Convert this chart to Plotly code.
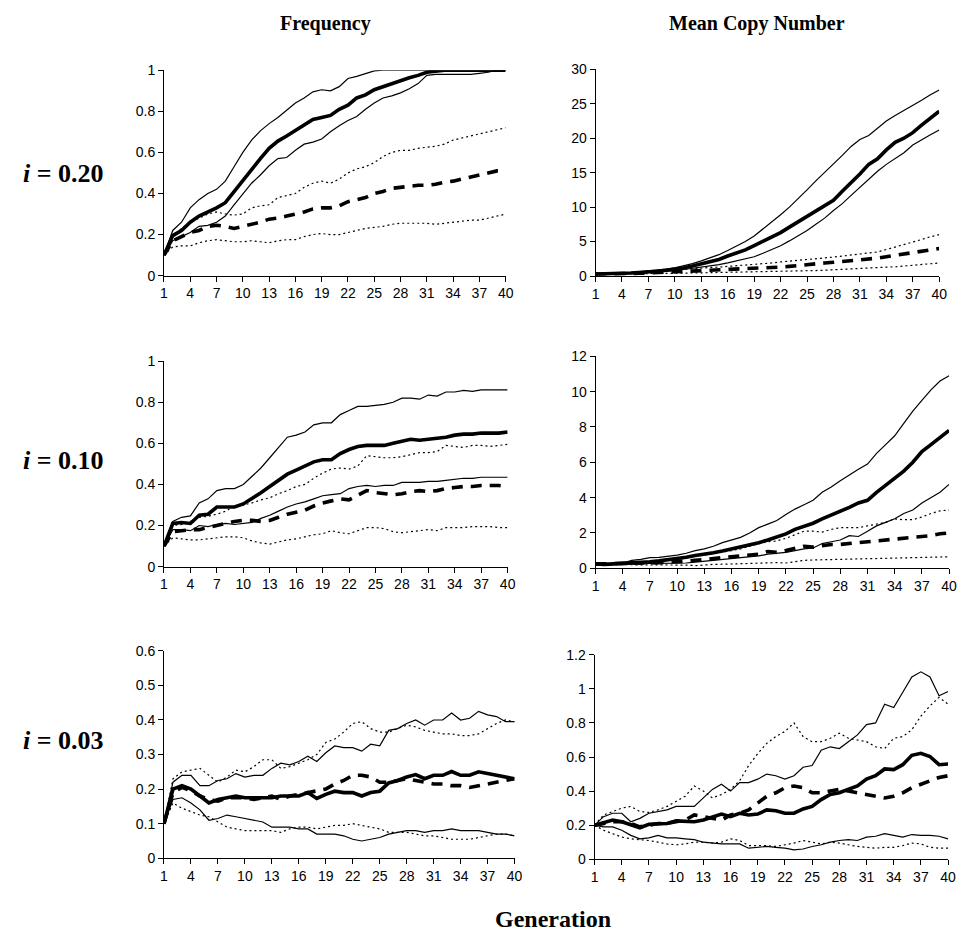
import plotly.graph_objects as go

generations = list(range(1, 41))
x_tick_vals = list(range(1, 41, 3))

# ---------- Frequency, i = 0.20 ----------
f20_mean = [0.1,0.195,0.22,0.26,0.29,0.31,0.33,0.355,0.41,0.465,0.52,0.57,0.62,0.655,0.68,0.705,0.735,0.76,0.77,0.78,
            0.81,0.83,0.865,0.88,0.905,0.92,0.935,0.95,0.963,0.975,0.99,0.995,1.0,1.0,1.0,1.0,1.0,1.0,1.0,1.0]
f20_up = [0.1,0.22,0.26,0.33,0.37,0.4,0.42,0.46,0.53,0.6,0.66,0.705,0.74,0.77,0.805,0.84,0.865,0.895,0.905,0.9,
          0.92,0.96,0.97,0.985,0.997,1.0,1.0,1.0,1.0,1.0,1.0,1.0,1.0,1.0,1.0,1.0,1.0,1.0,1.0,1.0]
f20_low = [0.1,0.17,0.19,0.21,0.24,0.245,0.26,0.29,0.345,0.4,0.45,0.49,0.535,0.57,0.575,0.61,0.64,0.65,0.665,0.7,
           0.73,0.755,0.775,0.81,0.84,0.865,0.875,0.89,0.91,0.935,0.975,0.98,0.98,0.98,0.98,0.98,0.985,0.99,1.0,1.0]
f20_dup = [0.1,0.19,0.23,0.26,0.28,0.3,0.31,0.3,0.295,0.3,0.33,0.34,0.345,0.38,0.39,0.4,0.43,0.45,0.46,0.45,
           0.47,0.5,0.52,0.53,0.55,0.58,0.6,0.61,0.61,0.62,0.625,0.63,0.64,0.66,0.67,0.68,0.69,0.7,0.71,0.72]
f20_dmean = [0.1,0.17,0.19,0.21,0.22,0.24,0.245,0.24,0.23,0.24,0.25,0.26,0.275,0.28,0.29,0.3,0.31,0.325,0.33,0.33,
             0.34,0.36,0.37,0.38,0.4,0.41,0.425,0.43,0.435,0.44,0.44,0.445,0.455,0.46,0.47,0.48,0.49,0.5,0.51,0.51]
f20_dlow = [0.1,0.14,0.145,0.145,0.16,0.17,0.175,0.17,0.165,0.165,0.17,0.165,0.16,0.17,0.175,0.175,0.19,0.2,0.205,0.2,
            0.2,0.21,0.22,0.23,0.235,0.24,0.25,0.255,0.255,0.255,0.255,0.25,0.255,0.26,0.265,0.27,0.27,0.28,0.29,0.3]

# ---------- Mean copy number, i = 0.20 ----------
c20_mean = [0.3,0.3,0.35,0.4,0.45,0.5,0.6,0.7,0.85,1.0,1.2,1.45,1.75,2.05,2.4,2.9,3.3,3.8,4.4,5.0,
            5.6,6.3,7.1,7.9,8.7,9.5,10.3,11.0,12.3,13.5,14.8,16.2,17.0,18.3,19.4,20.0,20.8,21.9,22.9,23.9]
c20_up = [0.3,0.32,0.38,0.45,0.5,0.6,0.7,0.85,1.0,1.2,1.45,1.8,2.2,2.6,3.1,3.7,4.3,5.0,5.8,6.8,
          7.8,8.9,10.0,11.2,12.5,13.8,15.0,16.2,17.5,18.8,19.8,20.4,21.5,22.5,23.3,24.0,24.7,25.5,26.3,27.0]
c20_low = [0.3,0.3,0.32,0.35,0.38,0.42,0.5,0.57,0.65,0.8,0.95,1.1,1.3,1.45,1.65,1.9,2.2,2.5,2.8,3.3,
           3.8,4.4,5.1,5.8,6.6,7.5,8.4,9.5,10.5,11.7,12.9,14.1,15.2,16.2,17.0,17.9,19.0,19.8,20.5,21.2]
c20_dup = [0.3,0.32,0.35,0.4,0.45,0.5,0.6,0.7,0.8,0.95,1.05,1.15,1.2,1.25,1.3,1.4,1.5,1.55,1.6,1.75,
           1.9,2.05,2.15,2.25,2.35,2.5,2.6,2.75,2.9,3.05,3.2,3.35,3.5,3.85,4.2,4.5,4.9,5.3,5.7,6.0]
c20_dmean = [0.3,0.3,0.3,0.35,0.35,0.4,0.45,0.5,0.6,0.7,0.75,0.8,0.8,0.85,0.95,1.0,1.0,1.05,1.1,1.2,
             1.25,1.3,1.4,1.55,1.7,1.8,1.9,2.0,2.1,2.2,2.3,2.45,2.6,2.8,3.0,3.2,3.4,3.6,3.8,4.0]
c20_dlow = [0.3,0.3,0.3,0.3,0.3,0.32,0.33,0.35,0.38,0.4,0.42,0.44,0.46,0.48,0.5,0.5,0.52,0.54,0.55,0.58,
            0.6,0.62,0.65,0.7,0.75,0.8,0.85,0.9,0.95,1.0,1.05,1.1,1.18,1.25,1.35,1.45,1.55,1.65,1.78,1.9]

# ---------- Frequency, i = 0.10 ----------
f10_mean = [0.1,0.21,0.215,0.21,0.25,0.255,0.29,0.29,0.29,0.305,0.33,0.36,0.39,0.42,0.45,0.47,0.49,0.51,0.52,0.52,
            0.55,0.57,0.585,0.59,0.59,0.59,0.6,0.61,0.62,0.615,0.62,0.625,0.63,0.64,0.645,0.645,0.65,0.65,0.65,0.655]
f10_up = [0.1,0.22,0.24,0.247,0.31,0.33,0.37,0.38,0.38,0.4,0.44,0.48,0.53,0.58,0.63,0.64,0.655,0.69,0.7,0.7,
          0.74,0.76,0.78,0.78,0.785,0.79,0.8,0.82,0.82,0.815,0.835,0.83,0.85,0.85,0.858,0.853,0.86,0.86,0.86,0.86]
f10_low = [0.1,0.18,0.18,0.175,0.2,0.195,0.205,0.21,0.205,0.21,0.215,0.235,0.25,0.27,0.29,0.305,0.315,0.33,0.345,0.35,
           0.355,0.38,0.39,0.395,0.39,0.395,0.395,0.41,0.41,0.41,0.415,0.415,0.42,0.425,0.43,0.43,0.435,0.435,0.435,0.435]
f10_dup = [0.1,0.2,0.205,0.22,0.24,0.245,0.255,0.27,0.295,0.3,0.31,0.325,0.335,0.355,0.37,0.39,0.4,0.43,0.455,0.475,
           0.48,0.475,0.49,0.54,0.535,0.53,0.53,0.535,0.545,0.555,0.555,0.56,0.59,0.585,0.58,0.59,0.59,0.585,0.59,0.595]
f10_dmean = [0.1,0.17,0.175,0.18,0.18,0.19,0.2,0.21,0.22,0.225,0.225,0.22,0.225,0.24,0.255,0.265,0.275,0.295,0.31,0.32,
             0.33,0.325,0.35,0.37,0.36,0.355,0.35,0.355,0.365,0.37,0.365,0.37,0.38,0.385,0.39,0.39,0.395,0.395,0.395,0.39]
f10_dlow = [0.1,0.14,0.135,0.13,0.13,0.135,0.14,0.145,0.145,0.14,0.125,0.115,0.11,0.12,0.13,0.135,0.145,0.155,0.16,0.175,
            0.165,0.16,0.175,0.19,0.19,0.185,0.17,0.165,0.17,0.175,0.18,0.175,0.19,0.19,0.19,0.195,0.195,0.195,0.19,0.19]

# ---------- Mean copy number, i = 0.10 ----------
c10_mean = [0.25,0.22,0.25,0.27,0.3,0.33,0.37,0.42,0.48,0.55,0.62,0.72,0.78,0.88,0.98,1.1,1.2,1.3,1.45,1.6,
            1.75,1.95,2.2,2.35,2.55,2.8,3.0,3.2,3.45,3.7,3.85,4.3,4.7,5.1,5.5,6.0,6.6,7.0,7.4,7.8]
c10_up = [0.25,0.25,0.28,0.3,0.45,0.5,0.6,0.62,0.68,0.75,0.85,1.0,1.1,1.25,1.45,1.6,1.75,2.0,2.3,2.5,
          2.7,3.05,3.35,3.6,3.85,4.3,4.6,4.95,5.3,5.6,5.9,6.5,7.0,7.5,8.2,8.9,9.5,10.1,10.6,10.9]
c10_low = [0.25,0.22,0.22,0.22,0.25,0.25,0.27,0.28,0.28,0.3,0.3,0.35,0.4,0.45,0.5,0.55,0.6,0.62,0.7,0.8,
           0.85,0.9,1.0,1.1,1.15,1.4,1.5,1.6,1.85,1.8,2.1,2.4,2.6,2.8,3.1,3.3,3.7,4.0,4.3,4.75]
c10_dup = [0.25,0.25,0.27,0.28,0.3,0.33,0.37,0.4,0.45,0.5,0.58,0.65,0.75,0.82,0.9,1.0,1.1,1.25,1.4,1.5,
           1.55,1.7,1.9,2.1,2.1,2.05,2.2,2.3,2.3,2.3,2.4,2.5,2.6,2.8,2.75,2.75,2.9,3.1,3.25,3.3]
c10_dmean = [0.25,0.25,0.25,0.25,0.25,0.27,0.3,0.32,0.33,0.35,0.4,0.45,0.5,0.52,0.55,0.6,0.65,0.7,0.8,0.95,
             0.9,1.0,1.1,1.25,1.2,1.3,1.35,1.35,1.4,1.45,1.5,1.55,1.6,1.7,1.7,1.75,1.8,1.85,1.95,2.0]
c10_dlow = [0.25,0.22,0.2,0.2,0.2,0.2,0.2,0.2,0.2,0.2,0.18,0.15,0.2,0.22,0.23,0.25,0.27,0.28,0.3,0.32,
            0.32,0.3,0.38,0.45,0.47,0.48,0.5,0.5,0.52,0.53,0.55,0.55,0.55,0.55,0.57,0.58,0.6,0.62,0.64,0.65]

# ---------- Frequency, i = 0.03 ----------
f03_mean = [0.1,0.2,0.21,0.2,0.18,0.16,0.17,0.175,0.18,0.175,0.175,0.175,0.175,0.18,0.18,0.18,0.19,0.173,0.185,0.194,
            0.19,0.19,0.18,0.19,0.194,0.218,0.225,0.235,0.242,0.23,0.24,0.24,0.251,0.24,0.24,0.25,0.245,0.24,0.235,0.23]
f03_up = [0.1,0.22,0.24,0.24,0.21,0.21,0.225,0.23,0.245,0.235,0.24,0.24,0.26,0.275,0.27,0.28,0.295,0.28,0.305,0.325,
          0.32,0.32,0.31,0.33,0.325,0.37,0.375,0.39,0.4,0.385,0.4,0.4,0.42,0.4,0.405,0.425,0.415,0.41,0.395,0.395]
f03_low = [0.1,0.17,0.175,0.16,0.14,0.11,0.115,0.125,0.12,0.115,0.11,0.105,0.09,0.09,0.09,0.085,0.085,0.07,0.07,0.07,
           0.065,0.055,0.05,0.055,0.06,0.07,0.075,0.08,0.08,0.075,0.08,0.08,0.085,0.08,0.08,0.08,0.075,0.07,0.07,0.065]
f03_dup = [0.1,0.23,0.25,0.255,0.26,0.24,0.22,0.235,0.255,0.25,0.265,0.285,0.285,0.26,0.265,0.275,0.285,0.3,0.335,0.345,
           0.365,0.39,0.395,0.375,0.365,0.365,0.375,0.385,0.38,0.37,0.365,0.36,0.36,0.355,0.355,0.36,0.375,0.39,0.4,0.395]
f03_dmean = [0.1,0.19,0.205,0.195,0.18,0.17,0.165,0.175,0.175,0.175,0.17,0.175,0.18,0.17,0.18,0.185,0.19,0.195,0.2,0.215,
             0.225,0.24,0.24,0.235,0.22,0.22,0.225,0.23,0.225,0.22,0.215,0.215,0.21,0.21,0.205,0.21,0.215,0.22,0.225,0.23]
f03_dlow = [0.1,0.16,0.145,0.135,0.125,0.12,0.105,0.09,0.085,0.08,0.08,0.08,0.08,0.075,0.085,0.09,0.09,0.085,0.09,0.095,
            0.095,0.1,0.095,0.09,0.085,0.075,0.075,0.075,0.07,0.065,0.065,0.06,0.055,0.055,0.055,0.06,0.065,0.07,0.07,0.065]

# ---------- Mean copy number, i = 0.03 ----------
c03_mean = [0.2,0.215,0.23,0.22,0.2,0.185,0.205,0.21,0.21,0.225,0.225,0.22,0.23,0.245,0.265,0.25,0.27,0.26,0.265,0.29,
            0.285,0.27,0.27,0.295,0.31,0.35,0.38,0.39,0.41,0.43,0.47,0.49,0.53,0.526,0.555,0.61,0.622,0.603,0.555,0.559]
c03_up = [0.2,0.25,0.27,0.27,0.22,0.24,0.27,0.28,0.29,0.31,0.31,0.31,0.36,0.41,0.44,0.4,0.45,0.45,0.47,0.5,
          0.49,0.47,0.49,0.54,0.55,0.64,0.66,0.65,0.69,0.73,0.79,0.8,0.91,0.89,0.98,1.07,1.1,1.07,0.96,0.985]
c03_low = [0.2,0.19,0.19,0.17,0.14,0.12,0.125,0.14,0.125,0.125,0.12,0.115,0.1,0.095,0.09,0.09,0.09,0.065,0.07,0.075,
           0.07,0.065,0.055,0.06,0.075,0.085,0.1,0.11,0.115,0.11,0.13,0.135,0.15,0.14,0.13,0.145,0.14,0.14,0.135,0.12]
c03_dup = [0.2,0.26,0.28,0.3,0.31,0.28,0.275,0.29,0.31,0.34,0.37,0.43,0.4,0.36,0.38,0.41,0.46,0.55,0.62,0.68,
           0.72,0.75,0.8,0.72,0.69,0.69,0.71,0.74,0.71,0.7,0.69,0.66,0.65,0.71,0.72,0.76,0.84,0.9,0.95,0.91]
c03_dmean = [0.2,0.21,0.22,0.22,0.21,0.19,0.2,0.21,0.21,0.22,0.23,0.26,0.25,0.24,0.23,0.26,0.27,0.29,0.33,0.37,
             0.39,0.42,0.43,0.42,0.39,0.39,0.4,0.41,0.4,0.39,0.38,0.37,0.36,0.37,0.39,0.42,0.44,0.46,0.48,0.49]
c03_dlow = [0.2,0.17,0.15,0.13,0.12,0.115,0.11,0.1,0.09,0.085,0.09,0.1,0.1,0.095,0.1,0.12,0.11,0.08,0.08,0.08,
            0.075,0.085,0.095,0.11,0.1,0.09,0.1,0.095,0.085,0.075,0.07,0.065,0.07,0.07,0.08,0.095,0.09,0.07,0.065,0.065]

col_titles = ["Frequency", "Mean Copy Number"]
row_titles = ["0.20", "0.10", "0.03"]
x_title = "Generation"

W, H = 964, 939

def px_x(a):
    return a / W

def px_y(a):
    return 1 - a / H

# panel pixel boxes: (left, right, top, bottom)
panels = [
    dict(box=(162, 508, 63.3, 272.3), yrange=[0, 1], dtick=0.2,
         series=[f20_up, f20_mean, f20_low, f20_dup, f20_dmean, f20_dlow]),
    dict(box=(599, 947, 62.3, 272.7), yrange=[0, 30], dtick=5,
         series=[c20_up, c20_mean, c20_low, c20_dup, c20_dmean, c20_dlow]),
    dict(box=(162, 510, 359.3, 568.3), yrange=[0, 1], dtick=0.2,
         series=[f10_up, f10_mean, f10_low, f10_dup, f10_dmean, f10_dlow]),
    dict(box=(599, 957, 354.3, 570), yrange=[0, 12], dtick=2,
         series=[c10_up, c10_mean, c10_low, c10_dup, c10_dmean, c10_dlow]),
    dict(box=(162, 517, 654, 865), yrange=[0, 0.6], dtick=0.1,
         series=[f03_up, f03_mean, f03_low, f03_dup, f03_dmean, f03_dlow]),
    dict(box=(598, 956, 658, 866), yrange=[0, 1.2], dtick=0.2,
         series=[c03_up, c03_mean, c03_low, c03_dup, c03_dmean, c03_dlow]),
]

styles = [
    dict(width=1.2, dash="solid"),
    dict(width=3.6, dash="solid"),
    dict(width=1.2, dash="solid"),
    dict(width=1.2, dash="2px,3px"),
    dict(width=3.6, dash="11px,8px"),
    dict(width=1.2, dash="2px,3px"),
]

fig = go.Figure()
layout = dict(
    width=W, height=H, autosize=False,
    margin=dict(l=0, r=0, t=0, b=0),
    paper_bgcolor="white", plot_bgcolor="white",
    showlegend=False,
)
tickfont = dict(family="Liberation Sans, Arial, sans-serif", size=14, color="black")

for i, p in enumerate(panels):
    n = "" if i == 0 else str(i + 1)
    l, r, t, b = p["box"]
    for s, st in zip(p["series"], styles):
        fig.add_trace(go.Scatter(
            x=generations, y=s, mode="lines",
            line=dict(color="black", width=st["width"], dash=st["dash"]),
            xaxis="x" + n, yaxis="y" + n, hoverinfo="skip",
        ))
    layout["xaxis" + n] = dict(
        domain=[px_x(l), px_x(r)], anchor="y" + n, range=[1, 40],
        tickvals=x_tick_vals, ticks="outside", ticklen=5, tickcolor="black",
        showline=True, linecolor="black", linewidth=1, showgrid=False,
        zeroline=False, tickfont=tickfont,
    )
    layout["yaxis" + n] = dict(
        domain=[px_y(b), px_y(t)], anchor="x" + n, range=p["yrange"],
        dtick=p["dtick"], tick0=0, ticks="outside", ticklen=5, tickcolor="black",
        showline=True, linecolor="black", linewidth=1, showgrid=False,
        zeroline=False, tickfont=tickfont,
    )

serif = "Liberation Serif, Times New Roman, serif"

def label(text, cx, cy, size):
    return dict(text=text, x=px_x(cx), y=px_y(cy), xref="paper", yref="paper",
                xanchor="center", yanchor="middle", showarrow=False,
                font=dict(family=serif, size=size, color="black"))

annotations = [
    label("<b>%s</b>" % col_titles[0], 326, 16, 20),
    label("<b>%s</b>" % col_titles[1], 762, 16, 20),
    label("<b>%s</b>" % x_title, 556, 927, 24),
]
for ry, lab in zip([168, 460, 745], row_titles):
    annotations.append(label("<b><i>i</i> = %s</b>" % lab, 60, ry, 26))
layout["annotations"] = annotations
fig.update_layout(**layout)
fig.write_html("out.html")
